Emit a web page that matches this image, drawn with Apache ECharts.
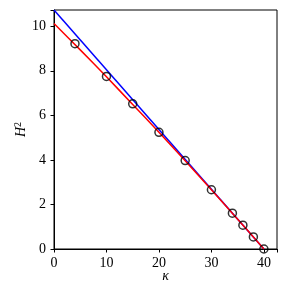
<!DOCTYPE html>
<html><head><meta charset="utf-8">
<script src="https://cdn.jsdelivr.net/npm/echarts@6/dist/echarts.min.js"></script>
<style>html,body{margin:0;padding:0;background:#fff}#c{width:287px;height:287px}</style>
</head><body><div id="c"></div>
<script>
var kappa = [4, 10, 15, 20, 25, 30, 34, 36, 38, 40];
var h2 = [9.22, 7.75, 6.52, 5.24, 3.97, 2.66, 1.61, 1.07, 0.54, 0.0];
var redX = [0, 5, 10, 15, 20, 25, 30, 35, 40];
var redY = [10.12, 8.94, 7.73, 6.49, 5.24, 3.96, 2.66, 1.34, 0.0];
var blueX = [0, 40];
var blueY = [10.73, 0.0];
var xTicks = [0, 10, 20, 30, 40];
var yTicks = [0, 2, 4, 6, 8, 10];

function zip(a, b) { return a.map(function (v, i) { return [v, b[i]]; }); }
var serif = '"Liberation Serif", "DejaVu Serif", serif';
var chart = echarts.init(document.getElementById('c'));
chart.setOption({
  animation: false,
  grid: { left: 54, right: 10, top: 10, bottom: 38, outerBoundsMode: 'none', containLabel: false,
    show: true, borderColor: '#000', borderWidth: 1, backgroundColor: 'transparent' },
  xAxis: {
    type: 'value', min: 0, max: 42.5, interval: 10,
    name: 'κ', nameLocation: 'middle', nameGap: 20, nameMoveOverlap: false,
    nameTextStyle: { fontFamily: serif, fontStyle: 'italic', fontSize: 14, color: '#000' },
    axisLine: { show: true, lineStyle: { color: '#000', width: 1 } },
    axisTick: { show: true, length: 3.5, lineStyle: { color: '#000' } },
    axisLabel: { fontFamily: serif, fontSize: 14, color: '#000', margin: 7,
      formatter: function (v) { return xTicks.indexOf(v) >= 0 ? String(v) : ''; } },
    splitLine: { show: false }
  },
  yAxis: {
    type: 'value', min: 0, max: 10.73, interval: 2,
    name: '{i|H}{s|2}', nameLocation: 'middle', nameGap: 24, nameMoveOverlap: false,
    nameTextStyle: { rich: {
      i: { fontFamily: serif, fontStyle: 'italic', fontSize: 14, color: '#000' },
      s: { fontFamily: serif, fontSize: 10, color: '#000', verticalAlign: 'top', padding: [0, 0, 7, 0] }
    } },
    axisLine: { show: true, lineStyle: { color: '#000', width: 1 } },
    axisTick: { show: true, length: 3.5, lineStyle: { color: '#000' } },
    axisLabel: { fontFamily: serif, fontSize: 14, color: '#000', margin: 8,
      formatter: function (v) { return yTicks.indexOf(v) >= 0 ? String(v) : ''; } },
    splitLine: { show: false }
  },
  series: [
    { type: 'line', data: zip(blueX, blueY), showSymbol: false, lineStyle: { color: '#0000ff', width: 1.5 }, z: 2 },
    { type: 'line', data: zip(redX, redY), showSymbol: false, smooth: 0.3, lineStyle: { color: '#ff0000', width: 1.5 }, z: 3 },
    { type: 'scatter', data: zip(kappa, h2), symbol: 'circle', symbolSize: 8,
      itemStyle: { color: 'rgba(0,0,0,0)', borderColor: '#000', borderWidth: 1.5 }, z: 4 }
  ]
});
</script></body></html>
